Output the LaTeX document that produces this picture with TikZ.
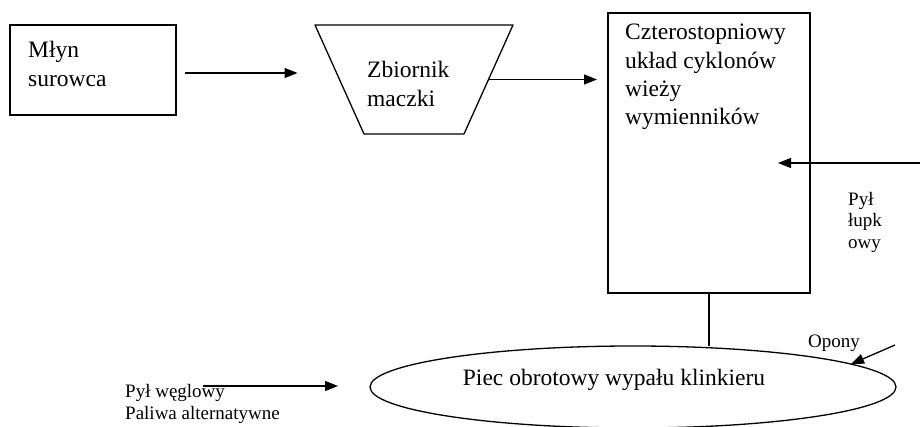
\documentclass[tikz,border=0pt]{standalone}
\usepackage{fontspec}
\setmainfont{Liberation Serif}
\usetikzlibrary{shapes.geometric,arrows.meta}

\begin{document}
\begin{tikzpicture}[x=1pt,y=-1pt,
        blok/.style={draw, line width=1.3pt, inner sep=0pt, outer sep=0pt},
        duzy/.style={align=left, inner sep=0pt, font=\fontsize{23.5}{28.4}\selectfont},
        maly/.style={align=left, inner sep=0pt, font=\fontsize{19}{21.5}\selectfont},
        linia/.style={line width=1.3pt, line join=round},
        strz/.style={line width=1.3pt, -{Triangle[length=13pt,width=10pt]}}]
        \useasboundingbox (0,0) rectangle (920,427);

        \node[blok, minimum width=166, minimum height=90] (mlyn) at (93,70) {};
        \node[duzy, anchor=west] (mlynT) at (28,64) {Młyn\\surowca};

        % zbiornik: odwrocony trapez
        \coordinate (zbA) at (315,25);
        \coordinate (zbB) at (513,25);
        \coordinate (zbC) at (464,134);
        \coordinate (zbD) at (364,134);
        \coordinate (zbW) at (339.5,79.5);
        \coordinate (zbE) at (488.5,79.5);
        \draw[linia] (zbA) -- (zbB) -- (zbC) -- (zbD) -- cycle;
        \node[duzy, anchor=west] (zbT) at (367,84) {Zbiornik\\maczki};

        \node[blok, minimum width=202, minimum height=280] (cyk) at (709,153) {};
        \node[duzy, anchor=west] (cykT) at (625,77) {Czterostopniowy\\układ cyklonów\\wieży\\wymienników};

        \node[blok, ellipse, minimum width=526, minimum height=82] (piec) at (633,387) {};
        \node[duzy] (piecT) at (614,380) {Piec obrotowy wypału klinkieru};

        \node[maly, anchor=west] (lupekT) at (848,222) {Pył\\łupk\\owy};
        \node[maly] (oponyT) at (834,343) {Opony};
        \node[maly, anchor=west] (wegielT) at (125,404) {Pył węglowy\\Paliwa alternatywne};

        \coordinate (lupek) at (920,163);
        \coordinate (wlot) at (778,163);
        \coordinate (opony) at (895,345);
        \coordinate (wegiel) at (203,386);

        \draw[strz, shorten <=9pt, shorten >=42pt] ([yshift=-3pt]mlyn.east) -- ([yshift=-3pt]mlyn.east -| zbW);
        \draw[strz, shorten >=11pt] (zbE) -- (zbE -| cyk.west);
        \draw[strz] (lupek) -- (wlot);
        \draw[linia] (cyk.south) -- (cyk.south |- piec.north);
        \draw[strz] (opony) -- (piec.6);
        \draw[strz, shorten >=32pt] (wegiel) -- (wegiel -| piec.west);
\end{tikzpicture}
\end{document}
